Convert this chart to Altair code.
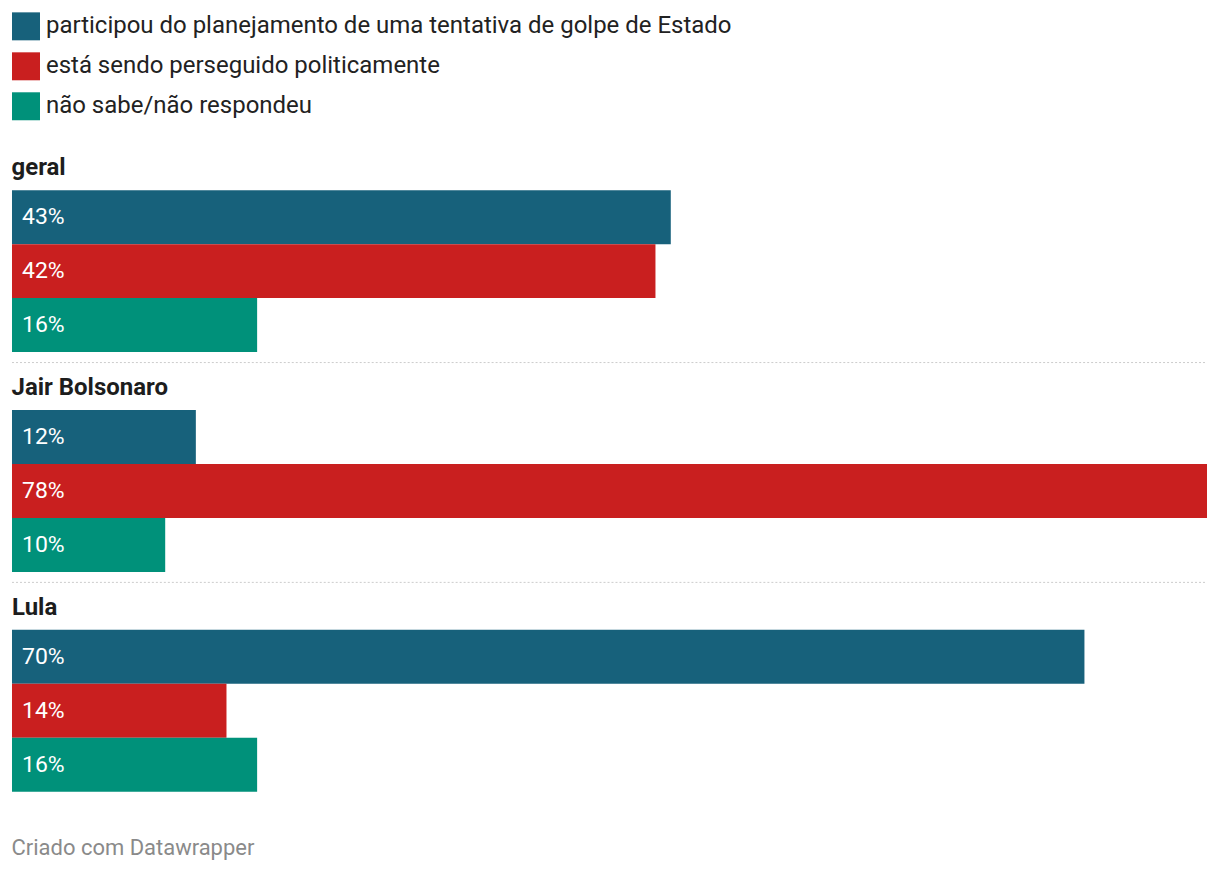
import altair as alt
import pandas as pd

groups = ["geral", "Jair Bolsonaro", "Lula"]
series = [
    "participou do planejamento de uma tentativa de golpe de Estado",
    "está sendo perseguido politicamente",
    "não sabe/não respondeu",
]
values = {
    "geral": [43, 42, 16],
    "Jair Bolsonaro": [12, 78, 10],
    "Lula": [70, 14, 16],
}
colors = ["#17617b", "#c91f1f", "#00917a"]

rows = []
for g in groups:
    for s, v in zip(series, values[g]):
        rows.append({"grupo": g, "serie": s, "valor": v, "rotulo": f"{v}%"})
df = pd.DataFrame(rows)

W = 1196
H = 162
xscale = alt.Scale(domain=[0, 78], nice=False, zero=True)
yscale = alt.Scale(domain=series, paddingInner=0, paddingOuter=0)
cscale = alt.Scale(domain=series, range=colors)


def panel(g, idx):
    d = df[df.grupo == g]
    base = alt.Chart(d)
    bars = base.mark_bar().encode(
        x=alt.X("valor:Q", scale=xscale, axis=None),
        y=alt.Y("serie:N", scale=yscale, axis=None, sort=series),
        color=alt.Color(
            "serie:N",
            scale=cscale,
            sort=series,
            legend=alt.Legend(
                title=None,
                orient="top",
                direction="vertical",
                symbolType="square",
                symbolSize=784,
                symbolStrokeWidth=0,
                symbolOpacity=1,
                labelFontSize=24,
                labelFont="Roboto",
                labelColor="#222222",
                labelLimit=1000,
                rowPadding=12,
                labelOffset=6,
                offset=36,
            ),
        ),
    )
    labels = base.mark_text(
        align="left", baseline="middle", dx=10, fontSize=23, font="Roboto", color="white"
    ).encode(
        x=alt.X("zero:Q", scale=xscale, axis=None),
        y=alt.Y("serie:N", scale=yscale, axis=None, sort=series),
        text="rotulo:N",
    ).transform_calculate(zero="0")
    layers = [bars, labels]
    if idx < len(groups) - 1:
        sep = alt.Chart(pd.DataFrame({"a": [0]})).mark_rule(
            color="#cccccc", strokeDash=[2, 2], strokeWidth=1
        ).encode(x=alt.value(0), x2=alt.value(W), y=alt.value(H + 10.5))
        layers.append(sep)
    return alt.layer(*layers).properties(
        width=W,
        height=H,
        title=alt.TitleParams(
            g,
            anchor="start",
            fontSize=24,
            fontWeight="bold",
            font="Roboto",
            color="#1d1d1d",
            offset=10,
        ),
    )


chart = (
    alt.vconcat(*[panel(g, i) for i, g in enumerate(groups)], spacing=13)
    .properties(
        padding={"left": 3, "right": 4, "top": 4, "bottom": 4},
        title=alt.TitleParams(
            "Criado com Datawrapper",
            orient="bottom",
            anchor="start",
            fontSize=22,
            font="Roboto",
            fontWeight="normal",
            color="#8a8a8a",
            offset=46,
        ),
    )
    .configure(font="Roboto")
    .configure_view(strokeWidth=0, stroke=None)
)

chart.save("out.html", embed_options={"renderer": "svg", "actions": False})
